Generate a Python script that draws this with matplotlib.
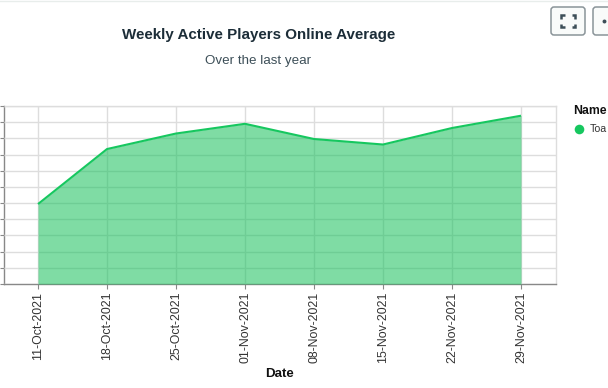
import matplotlib
matplotlib.use("Agg")
from matplotlib import pyplot as plt
from matplotlib.patches import FancyBboxPatch

plt.rcParams["font.family"] = ["Liberation Sans", "DejaVu Sans"]

# values, the y labels are cut off in the reference
dates = ["11-Oct-2021", "18-Oct-2021", "25-Oct-2021", "01-Nov-2021",
         "08-Nov-2021", "15-Nov-2021", "22-Nov-2021", "29-Nov-2021"]
players = [4.94, 8.34, 9.3, 9.9, 8.96, 8.62, 9.64, 10.4]
y_grid = list(range(12))
legend_title = "Name"
legend_name = "Toa"
title = "Weekly Active Players Online Average"
subtitle = "Over the last year"
x_label = "Date"

W, H = 608, 388
green = "#16c75f"
xs = list(range(len(dates)))

fig = plt.figure(figsize=(W / 100, H / 100), dpi=100)
ax = fig.add_axes([3.5 / W, 1 - 284 / H, 552 / W, 178 / H])

ax.fill_between(xs, players, 0, color="#12c058", alpha=0.54, lw=0, zorder=3)
ax.plot(xs, players, color=green, lw=1.5, zorder=4, solid_capstyle="butt")

ax.set_xlim(-0.5, 7.5)
ax.set_ylim(0, 11)
ax.set_xticks(xs)
ax.set_xticklabels(dates, rotation=90, fontsize=8.9, color="#333333")
ax.set_yticks(y_grid)
ax.set_yticklabels([])
ax.tick_params(axis="x", length=3.5, width=0.8, color="#888888", pad=2)
ax.tick_params(axis="y", length=3, width=0.8, color="#888888")
ax.grid(True, color="#dddddd", lw=1, zorder=1)
ax.set_axisbelow(False)
for line in ax.get_xgridlines() + ax.get_ygridlines():
    line.set_zorder(1)

ax.spines["top"].set_color("#dddddd")
ax.spines["right"].set_color("#dddddd")
ax.spines["left"].set_color("#888888")
ax.spines["bottom"].set_color("#888888")
for s in ax.spines.values():
    s.set_linewidth(1)

# overlay in pixel coordinates for titles, legend and the toolbar buttons
ov = fig.add_axes([0, 0, 1, 1], facecolor="none")
ov.set_xlim(0, W)
ov.set_ylim(H, 0)
ov.axis("off")

ov.text(258.5, 35, title, ha="center", va="center", fontsize=10.9,
        fontweight="bold", color="#1c2d38")
ov.text(258.5, 61, subtitle, ha="center", va="center", fontsize=9.6, color="#3d4f58")
ov.text(280, 374, x_label, ha="center", va="center", fontsize=9.6,
        fontweight="bold", color="#111111")

ov.text(573, 111, legend_title, ha="left", va="center", fontsize=8.8,
        fontweight="bold", color="#111111")
ov.scatter([579], [129], s=48, color=green, lw=0)
ov.text(590, 129.5, legend_name, ha="left", va="center", fontsize=7.6, color="#333333")

# toolbar buttons
for bx in [551, 593]:
    ov.add_patch(FancyBboxPatch((bx, 7), 34, 28, boxstyle="round,pad=0,rounding_size=3",
                                fc="#f9fbfa", ec="#8a9499", lw=1.1, clip_on=False))
# fullscreen icon corners
ico = "#3d4f58"
cx, cy, ax_half, ay_half, b = 568, 21, 7, 6, 3.5
for sx in (-1, 1):
    for sy in (-1, 1):
        ov.plot([cx + sx * (ax_half - b), cx + sx * ax_half, cx + sx * ax_half],
                [cy + sy * ay_half, cy + sy * ay_half, cy + sy * (ay_half - b)],
                color=ico, lw=1.8, solid_capstyle="butt", solid_joinstyle="miter")
ov.scatter([604], [21], s=8, color=ico, lw=0)
ov.plot([0, W], [0.5, 0.5], color="#e8edeb", lw=1)

fig.savefig("out.png", dpi=100)
